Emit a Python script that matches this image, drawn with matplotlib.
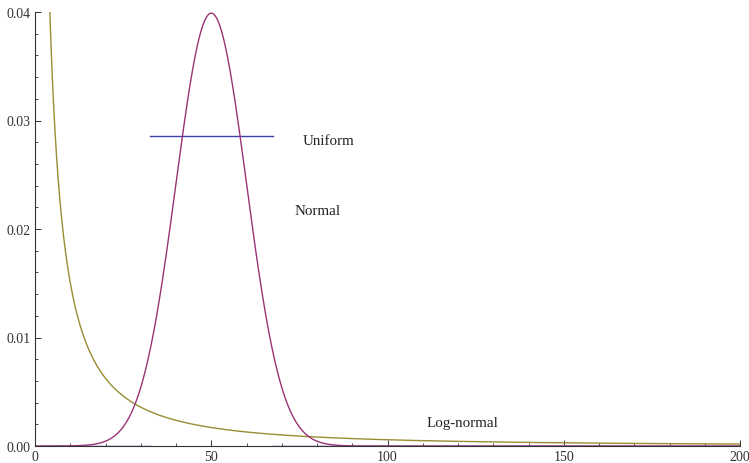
import numpy as np
import matplotlib
matplotlib.use("Agg")
import matplotlib.pyplot as plt
from matplotlib.ticker import MultipleLocator

plt.rcParams["font.family"] = ["Liberation Serif", "DejaVu Serif"]

# distribution parameters
normal_mean, normal_sd = 50.0, 10.0
uniform_low, uniform_high = 32.5, 67.5
lognormal_mu, lognormal_sigma = 1.15, 2.35

x_range = [0, 200]
y_range = [0, 0.04]
x_ticks = [0, 50, 100, 150, 200]
y_ticks = [0.00, 0.01, 0.02, 0.03, 0.04]
y_tick_labels = ["0.00", "0.01", "0.02", "0.03", "0.04"]

curve_labels = ["Uniform", "Normal", "Log-normal"]
label_pos = [(76.0, 0.0282), (73.5, 0.0217), (111.2, 0.0022)]

x = np.linspace(0.01, 200, 4000)

normal_pdf = np.exp(-(x - normal_mean) ** 2 / (2 * normal_sd ** 2)) / (normal_sd * np.sqrt(2 * np.pi))
lognormal_pdf = np.exp(-(np.log(x) - lognormal_mu) ** 2 / (2 * lognormal_sigma ** 2)) / (
    x * lognormal_sigma * np.sqrt(2 * np.pi))

# uniform pdf, broken at the jumps so no vertical lines appear
height = 1.0 / (uniform_high - uniform_low)
ux = [0, uniform_low, np.nan, uniform_low, uniform_high, np.nan, uniform_high, 200]
uy = [0, 0, np.nan, height, height, np.nan, 0, 0]

blue = (0.25, 0.25, 0.68)
purple = (0.6, 0.2, 0.46)
olive = (0.6, 0.55, 0.2)

fig = plt.figure(figsize=(7.49, 4.64), dpi=100)
ax = fig.add_axes([35 / 749, 17 / 464, 705 / 749, 434 / 464])

ax.plot(ux, uy, color=blue, lw=1.0)
ax.plot(x, lognormal_pdf, color=olive, lw=1.0)
ax.plot(x, normal_pdf, color=purple, lw=1.0)

for text, (tx, ty) in zip(curve_labels, label_pos):
    ax.text(tx, ty, text, fontsize=10.8, color="#222222", va="center", ha="left")

ax.set_xlim(x_range)
ax.set_ylim(y_range)
ax.set_xticks(x_ticks)
ax.set_yticks(y_ticks)
ax.set_yticklabels(y_tick_labels)
ax.xaxis.set_minor_locator(MultipleLocator(10))
ax.yaxis.set_minor_locator(MultipleLocator(0.002))

for side in ["top", "right"]:
    ax.spines[side].set_visible(False)
for side in ["left", "bottom"]:
    ax.spines[side].set_color("#333333")
    ax.spines[side].set_linewidth(0.8)

ax.tick_params(which="major", direction="in", length=4.5, width=0.7, color="#333333",
               labelsize=10, labelcolor="#333333", pad=3)
ax.tick_params(which="minor", direction="in", length=2.5, width=0.6, color="#333333")

fig.savefig("out.png", dpi=100)
